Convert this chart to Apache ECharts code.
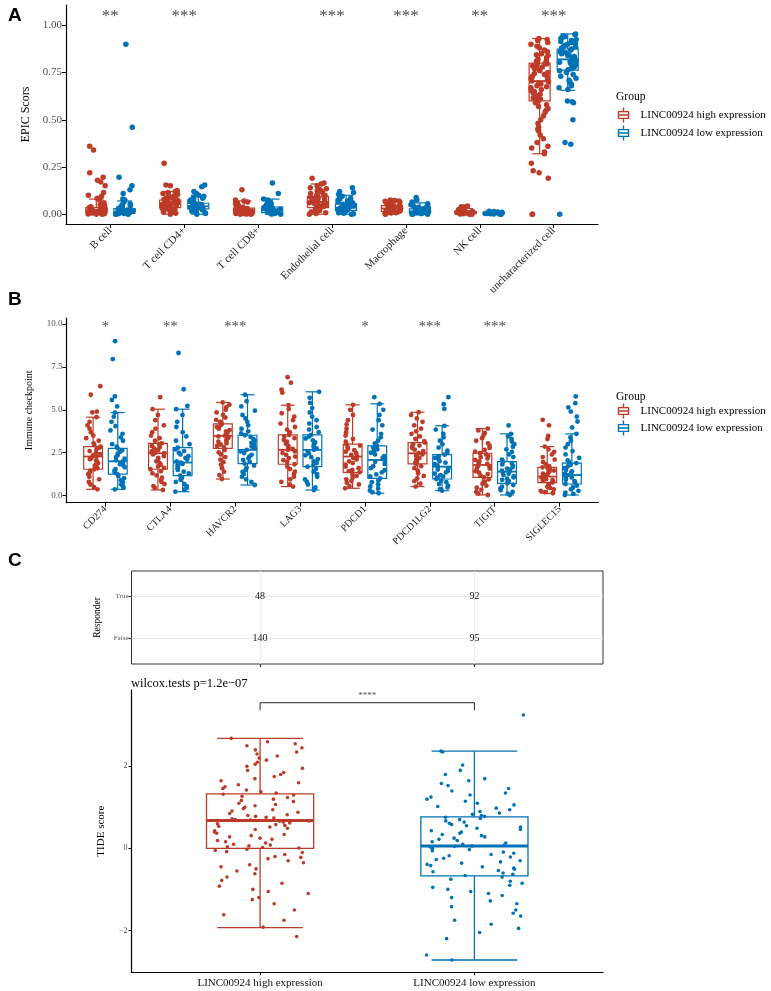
<!DOCTYPE html>
<html><head><meta charset="utf-8">
<script src="https://cdn.jsdelivr.net/npm/echarts@6/dist/echarts.min.js"></script>
<style>html,body{margin:0;padding:0;background:#fff}#c{width:771px;height:991px}</style>
</head><body><div id="c"></div>
<script>
// ---------------- DATA ----------------
const groupNames = ['LINC00924 high expression', 'LINC00924 low expression'];

// Panel A: EPIC scores
const cellTypes = ['B cell', 'T cell CD4+', 'T cell CD8+', 'Endothelial cell', 'Macrophage', 'NK cell', 'uncharacterized cell'];
const cellSig = ['**', '***', '', '***', '***', '**', '***'];
const epicHigh = [
  [0.36,0.34,0.22,0.195,0.18,0.17,0.15,0.115,0.1,0.095,0.085,0.075,0.06,0.055,0.05,0.045,0.04,0.035,0.03,0.03,0.028,0.025,0.022,0.02,0.018,0.016,0.015,0.014,0.012,0.01,0.009,0.008,0.006,0.005,0.004,0.003,0.002,0.001,0.0,0.0],
  [0.27,0.155,0.15,0.125,0.12,0.115,0.11,0.105,0.1,0.095,0.09,0.088,0.085,0.08,0.078,0.075,0.072,0.07,0.068,0.065,0.062,0.06,0.058,0.055,0.053,0.05,0.048,0.046,0.044,0.042,0.04,0.038,0.035,0.032,0.03,0.028,0.025,0.02,0.015,0.01,0.005,0.0],
  [0.13,0.075,0.07,0.065,0.06,0.055,0.05,0.045,0.04,0.037,0.034,0.03,0.028,0.025,0.022,0.02,0.018,0.016,0.015,0.013,0.012,0.01,0.009,0.008,0.006,0.005,0.004,0.003,0.002,0.001,0.0,0.0],
  [0.19,0.165,0.16,0.15,0.14,0.135,0.13,0.125,0.12,0.115,0.11,0.105,0.1,0.098,0.095,0.09,0.088,0.085,0.08,0.077,0.074,0.07,0.067,0.064,0.06,0.057,0.054,0.05,0.047,0.044,0.04,0.037,0.034,0.03,0.027,0.024,0.02,0.016,0.012,0.008,0.004,0.0],
  [0.075,0.072,0.07,0.068,0.065,0.062,0.06,0.057,0.054,0.05,0.048,0.045,0.043,0.04,0.038,0.036,0.034,0.032,0.03,0.028,0.026,0.024,0.022,0.02,0.018,0.016,0.014,0.012,0.01,0.008,0.006,0.004,0.002,0.0],
  [0.044,0.04,0.038,0.03,0.025,0.02,0.018,0.016,0.014,0.012,0.01,0.009,0.008,0.007,0.006,0.005,0.004,0.003,0.002,0.001,0.0,0.0],
  [0.93,0.925,0.92,0.91,0.9,0.89,0.88,0.87,0.86,0.85,0.845,0.84,0.83,0.82,0.815,0.81,0.8,0.795,0.79,0.785,0.78,0.77,0.765,0.76,0.75,0.745,0.74,0.73,0.725,0.72,0.71,0.705,0.7,0.695,0.69,0.68,0.675,0.67,0.66,0.655,0.65,0.64,0.635,0.63,0.62,0.615,0.61,0.6,0.59,0.58,0.57,0.56,0.55,0.54,0.52,0.5,0.48,0.46,0.45,0.44,0.42,0.4,0.38,0.36,0.35,0.33,0.32,0.27,0.23,0.22,0.19,0.0,0.0]
];
const epicLow = [
  [0.9,0.46,0.195,0.15,0.13,0.11,0.08,0.075,0.065,0.055,0.05,0.045,0.04,0.035,0.03,0.025,0.022,0.02,0.018,0.015,0.013,0.012,0.01,0.008,0.007,0.005,0.004,0.003,0.002,0.001,0.0,0.0],
  [0.155,0.145,0.12,0.11,0.1,0.095,0.09,0.085,0.08,0.075,0.07,0.066,0.062,0.058,0.055,0.052,0.05,0.048,0.045,0.043,0.04,0.038,0.036,0.034,0.032,0.03,0.028,0.026,0.024,0.02,0.016,0.012,0.008,0.004,0.0],
  [0.165,0.11,0.08,0.075,0.07,0.065,0.06,0.055,0.05,0.046,0.042,0.038,0.035,0.032,0.03,0.028,0.025,0.022,0.02,0.018,0.016,0.014,0.012,0.01,0.008,0.006,0.004,0.002,0.001,0.0],
  [0.14,0.12,0.115,0.105,0.095,0.09,0.085,0.08,0.075,0.07,0.065,0.06,0.056,0.052,0.048,0.045,0.042,0.039,0.036,0.034,0.032,0.03,0.028,0.026,0.024,0.022,0.02,0.017,0.014,0.011,0.008,0.005,0.002,0.0],
  [0.089,0.075,0.065,0.06,0.055,0.05,0.045,0.04,0.037,0.034,0.031,0.028,0.025,0.023,0.021,0.019,0.017,0.015,0.013,0.011,0.009,0.008,0.006,0.005,0.004,0.003,0.002,0.001,0.0,0.0],
  [0.016,0.014,0.012,0.011,0.01,0.009,0.008,0.007,0.006,0.005,0.004,0.003,0.002,0.001,0.0,0.0],
  [0.955,0.95,0.945,0.94,0.935,0.93,0.925,0.92,0.915,0.91,0.905,0.9,0.895,0.89,0.885,0.88,0.875,0.87,0.865,0.86,0.855,0.85,0.845,0.84,0.835,0.83,0.825,0.82,0.815,0.81,0.805,0.8,0.795,0.79,0.785,0.78,0.775,0.77,0.765,0.76,0.75,0.74,0.73,0.72,0.71,0.7,0.69,0.68,0.67,0.66,0.6,0.595,0.59,0.5,0.38,0.37,0.0]
];
// box stats: [lower whisker, Q1, median, Q3, upper whisker]
const epicBoxHigh = [[0,0.005,0.015,0.035,0.08],[0,0.035,0.055,0.075,0.12],[0,0.005,0.015,0.032,0.07],[0,0.035,0.065,0.095,0.16],[0,0.015,0.03,0.045,0.075],[0,0.003,0.008,0.015,0.03],[0.32,0.60,0.705,0.80,0.93]];
const epicBoxLow  = [[0,0.004,0.012,0.03,0.07],[0,0.028,0.042,0.058,0.1],[0,0.008,0.02,0.038,0.08],[0,0.02,0.034,0.055,0.1],[0,0.005,0.015,0.028,0.06],[0,0.002,0.006,0.01,0.016],[0.656,0.763,0.82,0.875,0.955]];
const epicTicks = [0, 0.25, 0.5, 0.75, 1.0];

// Panel B: immune checkpoints
const checkpointGenes = ['CD274', 'CTLA4', 'HAVCR2', 'LAG3', 'PDCD1', 'PDCD1LG2', 'TIGIT', 'SIGLEC15'];
const icpSig = ['*', '**', '***', '', '*', '***', '***', ''];
const icpHigh = [
  [6.38,5.88,4.9,4.85,4.57,4.3,4.1,3.9,3.7,3.5,3.35,3.2,3.05,2.95,2.86,2.8,2.7,2.6,2.5,2.42,2.35,2.28,2.2,2.12,2.05,1.98,1.9,1.82,1.75,1.68,1.6,1.54,1.45,1.35,1.25,1.1,0.95,0.8,0.65,0.5,0.37],
  [5.74,5.04,4.7,4.4,4.1,3.9,3.7,3.5,3.35,3.2,3.05,2.98,2.9,2.82,2.74,2.66,2.58,2.5,2.47,2.4,2.3,2.2,2.1,2.0,1.9,1.8,1.7,1.62,1.54,1.42,1.3,1.18,1.05,0.92,0.8,0.68,0.56,0.45,0.33],
  [5.43,5.3,5.15,5.0,4.85,4.7,4.55,4.42,4.3,4.18,4.1,4.0,3.9,3.82,3.74,3.66,3.58,3.5,3.45,3.38,3.3,3.22,3.14,3.06,2.98,2.9,2.83,2.76,2.65,2.52,2.4,2.25,2.1,1.95,1.8,1.6,1.4,1.2,0.97],
  [6.9,6.58,6.17,6.0,5.27,5.05,4.8,4.6,4.4,4.2,4.0,3.85,3.7,3.54,3.45,3.35,3.25,3.14,3.03,2.92,2.82,2.72,2.67,2.58,2.48,2.38,2.28,2.18,2.07,1.96,1.83,1.7,1.55,1.4,1.25,1.1,0.95,0.8,0.65,0.53],
  [5.29,5.0,4.7,4.4,4.15,3.9,3.7,3.5,3.3,3.15,3.0,2.92,2.83,2.74,2.65,2.56,2.47,2.38,2.28,2.2,2.1,2.0,1.9,1.8,1.7,1.6,1.5,1.43,1.36,1.25,1.15,1.05,0.95,0.85,0.75,0.65,0.55,0.43],
  [4.86,4.7,4.5,4.3,4.1,3.9,3.75,3.6,3.45,3.3,3.18,3.09,3.0,2.92,2.84,2.76,2.68,2.6,2.52,2.47,2.4,2.33,2.26,2.19,2.12,2.05,1.98,1.92,1.85,1.72,1.6,1.45,1.3,1.15,1.0,0.85,0.7,0.53],
  [3.91,3.8,3.65,3.5,3.35,3.2,3.05,2.9,2.78,2.66,2.56,2.47,2.4,2.32,2.24,2.16,2.08,2.0,1.92,1.85,1.79,1.72,1.65,1.58,1.5,1.42,1.34,1.26,1.18,1.07,0.95,0.82,0.7,0.58,0.46,0.34,0.22,0.12,0.04],
  [4.42,4.1,3.48,3.3,2.86,2.7,2.55,2.4,2.25,2.1,1.95,1.82,1.72,1.65,1.58,1.52,1.46,1.4,1.34,1.28,1.22,1.16,1.11,1.06,1.01,0.96,0.91,0.86,0.81,0.76,0.68,0.6,0.52,0.44,0.36,0.28,0.2,0.14]
];
const icpLow = [
  [9.0,7.96,5.78,5.58,5.2,4.84,4.6,4.3,4.05,3.8,3.6,3.4,3.2,3.0,2.85,2.76,2.65,2.55,2.45,2.35,2.25,2.15,2.07,2.0,1.92,1.83,1.74,1.65,1.55,1.45,1.35,1.26,1.15,1.02,0.9,0.78,0.66,0.55,0.45,0.37],
  [8.31,6.2,5.23,5.04,4.7,4.3,4.0,3.7,3.45,3.2,3.0,2.8,2.7,2.6,2.5,2.4,2.3,2.2,2.1,2.0,1.93,1.85,1.77,1.68,1.6,1.5,1.4,1.3,1.17,1.05,0.92,0.8,0.68,0.56,0.45,0.35,0.23],
  [5.88,5.5,5.2,4.95,4.7,4.5,4.3,4.1,3.9,3.75,3.62,3.52,3.42,3.3,3.2,3.08,2.97,2.86,2.76,2.67,2.58,2.48,2.38,2.28,2.18,2.08,1.97,1.87,1.75,1.62,1.5,1.38,1.25,1.1,0.95,0.8,0.62],
  [6.05,5.7,5.4,5.1,4.85,4.6,4.4,4.2,4.0,3.85,3.7,3.54,3.44,3.33,3.22,3.1,2.98,2.86,2.76,2.67,2.57,2.46,2.35,2.24,2.12,2.0,1.9,1.8,1.69,1.55,1.4,1.25,1.1,0.95,0.8,0.65,0.48,0.33],
  [5.74,5.35,5.0,4.7,4.4,4.1,3.85,3.6,3.4,3.2,3.05,2.9,2.8,2.7,2.6,2.5,2.4,2.3,2.2,2.08,1.97,1.85,1.72,1.6,1.48,1.36,1.24,1.12,1.01,0.9,0.78,0.66,0.54,0.42,0.3,0.2,0.14],
  [5.74,5.33,5.06,4.07,3.85,3.6,3.4,3.2,3.0,2.8,2.62,2.5,2.39,2.3,2.2,2.1,2.0,1.92,1.84,1.76,1.69,1.6,1.52,1.44,1.36,1.28,1.2,1.12,1.05,0.97,0.88,0.78,0.68,0.58,0.48,0.38,0.29],
  [4.09,3.6,3.45,3.3,3.15,3.0,2.85,2.7,2.55,2.4,2.25,2.1,1.98,1.9,1.82,1.74,1.66,1.58,1.5,1.45,1.4,1.34,1.27,1.2,1.13,1.06,0.99,0.92,0.85,0.78,0.72,0.62,0.52,0.42,0.32,0.22,0.12,0.04],
  [5.78,5.39,5.14,4.9,4.61,4.32,3.97,3.6,3.4,3.2,3.0,2.8,2.6,2.4,2.2,2.05,1.95,1.89,1.8,1.7,1.6,1.5,1.42,1.35,1.27,1.2,1.13,1.06,0.99,0.92,0.85,0.78,0.68,0.58,0.48,0.38,0.28,0.18,0.1,0.04]
];
const icpBoxHigh = [[0.37,1.54,2.28,2.86,4.57],[0.33,1.54,2.47,3.05,5.04],[0.97,2.76,3.48,4.18,5.43],[0.53,1.83,2.67,3.54,5.27],[0.43,1.36,2.28,3.0,5.29],[0.53,1.85,2.47,3.09,4.86],[0.04,1.07,1.79,2.47,3.91],[0.14,0.76,1.11,1.65,2.86]];
const icpBoxLow  = [[0.37,1.26,2.0,2.76,4.84],[0.23,1.17,1.93,2.8,5.04],[0.62,1.87,2.67,3.52,5.88],[0.33,1.69,2.67,3.54,6.05],[0.14,1.01,2.08,2.9,5.35],[0.29,0.97,1.69,2.39,4.07],[0.04,0.72,1.4,1.98,3.6],[0.04,0.68,1.2,1.89,3.6]];
const icpTicks = [0, 2.5, 5, 7.5, 10];

// Panel C: responder table + TIDE
const responderLevels = ['False', 'True'];
const responderTrue = [48, 92];
const responderFalse = [140, 95];
const tideHigh = [2.68,2.6,2.55,2.5,2.45,2.4,2.35,2.3,2.25,2.2,2.15,2.1,2.05,2.0,1.95,1.9,1.85,1.8,1.75,1.7,1.65,1.6,1.55,1.5,1.46,1.42,1.38,1.35,
  1.32,1.3,1.27,1.24,1.2,1.17,1.14,1.1,1.07,1.04,1.0,0.97,0.94,0.91,0.88,0.85,0.82,0.8,0.78,0.76,0.74,0.72,0.7,0.69,0.68,0.67,
  0.66,0.64,0.62,0.6,0.58,0.56,0.54,0.52,0.49,0.46,0.43,0.4,0.37,0.34,0.31,0.28,0.25,0.22,0.19,0.16,0.13,0.1,0.08,0.06,0.04,0.02,0.01,
  -0.02,-0.05,-0.08,-0.1,-0.15,-0.2,-0.22,-0.25,-0.3,-0.35,-0.4,-0.45,-0.5,-0.55,-0.62,-0.7,-0.78,-0.85,-0.92,-1.0,-1.05,-1.1,-1.2,-1.25,-1.35,-1.5,-1.62,-1.75,-1.92,-2.15];
const tideLow = [3.25,2.37,2.35,2.03,1.9,1.8,1.7,1.65,1.58,1.53,1.46,1.4,1.35,1.3,1.25,1.2,1.15,1.1,1.06,1.02,0.98,0.94,0.9,0.86,0.83,0.8,0.78,
  0.76,0.73,0.7,0.67,0.64,0.61,0.58,0.55,0.52,0.49,0.46,0.43,0.4,0.37,0.34,0.31,0.28,0.25,0.22,0.19,0.16,0.13,0.1,0.08,0.06,
  0.05,0.03,0.0,-0.03,-0.06,-0.09,-0.12,-0.15,-0.18,-0.21,-0.24,-0.27,-0.3,-0.33,-0.36,-0.39,-0.42,-0.45,-0.48,-0.51,-0.54,-0.57,-0.6,-0.63,-0.66,
  -0.7,-0.75,-0.8,-0.85,-0.9,-0.95,-1.0,-1.05,-1.1,-1.15,-1.2,-1.28,-1.35,-1.42,-1.5,-1.58,-1.65,-1.75,-1.85,-1.95,-2.05,-2.2,-2.6,-2.72];
const tideBox = [[-1.93,0.0,0.68,1.33,2.68],[-2.72,-0.67,0.06,0.77,2.37]];
const tideTicks = [-2, 0, 2];
const tideTest = 'wilcox.tests p=1.2e\u221207';
const tideSig = '****';

// ---------------- STYLE / LAYOUT ----------------
const RED = '#BC3C29', BLUE = '#0072B5';
const COLORS = [RED, BLUE];
const SERIF = '"Liberation Serif", "Times New Roman", serif';
const SANS = '"Liberation Sans", Arial, sans-serif';
const GREY = '#4D4D4D';

const PA = {left: 66, top: 5, right: 598, bottom: 224, ymin: -0.052, ymax: 1.108};
const PB = {left: 66.5, top: 318, right: 598.5, bottom: 502.7, ymin: -0.41, ymax: 10.35};
const PT = {left: 131.5, top: 571, right: 603, bottom: 664};
const PC = {left: 131.5, top: 690, right: 603, bottom: 972.3, ymin: -3.02, ymax: 3.86};
const DODGE = 0.19;

function rect(p) { return {left: p.left, top: p.top, width: p.right - p.left, height: p.bottom - p.top, outerBoundsMode: 'none', containLabel: false}; }
function unit(p, n) { return (p.right - p.left) / (n + 0.2); }
function shifted(p, n, shiftU) {
  const u = unit(p, n);
  return {left: p.left + 0.1 * u + shiftU * u, top: p.top, width: n * u, height: p.bottom - p.top, outerBoundsMode: 'none', containLabel: false};
}

const grids = [], xAxes = [], yAxes = [], series = [];

function hiddenCat(gi, cats, jitter) {
  xAxes.push({gridIndex: gi, type: 'category', data: cats, show: false, jitter: jitter, jitterOverlap: true});
}
function hiddenVal(gi, mn, mx) {
  yAxes.push({gridIndex: gi, type: 'value', min: mn, max: mx, show: false});
}

function boxRender(widthU, capU, color, lw, medLw) {
  return function (params, api) {
    const x = api.value(0);
    const lo = api.coord([x, api.value(1)]), q1 = api.coord([x, api.value(2)]),
          md = api.coord([x, api.value(3)]), q3 = api.coord([x, api.value(4)]), hi = api.coord([x, api.value(5)]);
    const bw = api.size([widthU, 0])[0], cw = api.size([capU, 0])[0];
    const cx = lo[0];
    const st = {stroke: color, lineWidth: lw, fill: 'none'};
    return {type: 'group', children: [
      {type: 'line', shape: {x1: cx, y1: hi[1], x2: cx, y2: q3[1]}, style: st},
      {type: 'line', shape: {x1: cx, y1: q1[1], x2: cx, y2: lo[1]}, style: st},
      {type: 'line', shape: {x1: cx - cw / 2, y1: hi[1], x2: cx + cw / 2, y2: hi[1]}, style: st},
      {type: 'line', shape: {x1: cx - cw / 2, y1: lo[1], x2: cx + cw / 2, y2: lo[1]}, style: st},
      {type: 'rect', shape: {x: cx - bw / 2, y: q3[1], width: bw, height: q1[1] - q3[1]}, style: st},
      {type: 'line', shape: {x1: cx - bw / 2, y1: md[1], x2: cx + bw / 2, y2: md[1]}, style: {stroke: color, lineWidth: medLw}}
    ]};
  };
}

function sigRender(labels, font, dy) {
  return function (params, api) {
    const p = api.coord([api.value(0), api.value(1)]);
    return {type: 'text', x: p[0], y: p[1] + dy, style: {text: labels[params.dataIndex], font: font, fill: GREY, align: 'center', verticalAlign: 'middle'}};
  };
}

// Build a dodged box+jitter panel
function dodgePanel(P, cats, high, low, boxHigh, boxLow, sig, opt) {
  const n = cats.length;
  const g0 = grids.length;
  grids.push(rect(P));
  xAxes.push({gridIndex: g0, type: 'value', min: 0.4, max: n + 0.6,
    axisLine: {show: true, onZero: false, lineStyle: {color: '#000', width: 1.2}},
    axisTick: {show: true, customValues: cats.map((c, i) => i + 1), length: 4, lineStyle: {color: '#000', width: 1}},
    axisLabel: {customValues: cats.map((c, i) => i + 1), formatter: v => cats[Math.round(v) - 1], rotate: 45, margin: 5,
      fontFamily: SERIF, fontSize: opt.xFont, color: '#222'},
    splitLine: {show: false}});
  yAxes.push({gridIndex: g0, type: 'value', min: P.ymin, max: P.ymax,
    name: opt.yName, nameLocation: 'middle', nameGap: opt.nameGap, nameRotate: 90,
    nameTextStyle: {fontFamily: SERIF, fontSize: opt.nameFont, color: '#000'},
    axisLine: {show: true, onZero: false, lineStyle: {color: '#000', width: 1.2}},
    axisTick: {show: true, customValues: opt.ticks, length: 4, lineStyle: {color: '#000', width: 1}},
    axisLabel: {customValues: opt.ticks, formatter: v => Number(v).toFixed(opt.dec), margin: 4,
      fontFamily: SERIF, fontSize: opt.yFont, color: GREY},
    splitLine: {show: false}});
  // boxes
  [boxHigh, boxLow].forEach((bx, g) => {
    const off = g === 0 ? -DODGE : DODGE;
    series.push({type: 'custom', name: groupNames[g], xAxisIndex: g0, yAxisIndex: g0,
      itemStyle: {color: COLORS[g]}, encode: {x: 0, y: [1, 2, 3, 4, 5]},
      data: bx.map((s, k) => [k + 1 + off, s[0], s[1], s[2], s[3], s[4]]),
      renderItem: boxRender(opt.boxW, opt.capW, COLORS[g], 1.2, 1.8), z: 2});
  });
  // jittered points on shifted category grids
  [high, low].forEach((vals, g) => {
    const gi = grids.length;
    grids.push(shifted(P, n, g === 0 ? -DODGE : DODGE));
    hiddenCat(gi, cats, opt.jitter);
    hiddenVal(gi, P.ymin, P.ymax);
    const data = [];
    vals.forEach((arr, k) => arr.forEach(v => data.push([k, v])));
    series.push({type: 'scatter', name: 'pts' + g + gi, xAxisIndex: gi, yAxisIndex: gi, data: data,
      symbolSize: opt.pt, itemStyle: {color: COLORS[g], opacity: 1}, silent: true, z: 3});
  });
  // significance stars
  series.push({type: 'custom', xAxisIndex: g0, yAxisIndex: g0, silent: true, z: 4,
    encode: {x: 0, y: 1},
    data: cats.map((c, k) => [k + 1, opt.starY]),
    renderItem: sigRender(sig, opt.starFont, opt.starDy)});
}

dodgePanel(PA, cellTypes, epicHigh, epicLow, epicBoxHigh, epicBoxLow, cellSig,
  {xFont: 11, yFont: 11, nameFont: 12, nameGap: 32, yName: 'EPIC Scors', ticks: epicTicks, dec: 2,
   boxW: 0.285, capW: 0.2, jitter: 18, pt: 5.5, starY: 1.057, starFont: '17px ' + SERIF, starDy: 2});
dodgePanel(PB, checkpointGenes, icpHigh, icpLow, icpBoxHigh, icpBoxLow, icpSig,
  {xFont: 10, yFont: 9, nameFont: 10, nameGap: 32, yName: 'Immune checkpoint', ticks: icpTicks, dec: 1,
   boxW: 0.29, capW: 0.215, jitter: 15, pt: 4.8, starY: 10.0, starFont: '15px ' + SERIF, starDy: 3});

// ---- Table panel ----
const gT = grids.length;
grids.push(Object.assign(rect(PT), {show: true, borderColor: '#333', borderWidth: 1, backgroundColor: '#fff'}));
xAxes.push({gridIndex: gT, type: 'value', min: 0.4, max: 2.6,
  axisLine: {show: false, onZero: false},
  axisTick: {show: true, customValues: [1, 2], length: 3, lineStyle: {color: '#333', width: 1.2}},
  axisLabel: {show: false},
  splitLine: {show: true, lineStyle: {color: '#EBEBEB', width: 1.2}}});
yAxes.push({gridIndex: gT, type: 'value', min: 0.4, max: 2.6,
  name: 'Responder', nameLocation: 'middle', nameGap: 23, nameRotate: 90,
  nameTextStyle: {fontFamily: SERIF, fontSize: 9.5, color: '#000'},
  axisLine: {show: false, onZero: false},
  axisTick: {show: true, customValues: [1, 2], length: 3, lineStyle: {color: '#333', width: 1.2}},
  axisLabel: {customValues: [1, 2], formatter: v => responderLevels[Math.round(v) - 1], margin: 3,
    fontFamily: SERIF, fontSize: 7, color: GREY},
  splitLine: {show: true, lineStyle: {color: '#EBEBEB', width: 1.2}}});
const tableData = [];
[0, 1].forEach(g => { tableData.push([g + 1, 2, responderTrue[g]]); tableData.push([g + 1, 1, responderFalse[g]]); });
series.push({type: 'custom', xAxisIndex: gT, yAxisIndex: gT, silent: true, encode: {x: 0, y: 1},
  data: tableData,
  renderItem: function (params, api) {
    const p = api.coord([api.value(0), api.value(1)]);
    return {type: 'text', x: p[0], y: p[1], style: {text: String(api.value(2)), font: '10px ' + SERIF, fill: '#111', align: 'center', verticalAlign: 'middle'}};
  }});

// ---- TIDE panel ----
const gC = grids.length;
grids.push(rect(PC));
xAxes.push({gridIndex: gC, type: 'value', min: 0.4, max: 2.6,
  axisLine: {show: true, onZero: false, lineStyle: {color: '#000', width: 1.2}},
  axisTick: {show: true, customValues: [1, 2], length: 3, lineStyle: {color: '#000'}},
  axisLabel: {customValues: [1, 2], formatter: v => groupNames[Math.round(v) - 1], margin: 5,
    fontFamily: SERIF, fontSize: 11, color: '#111'},
  splitLine: {show: false}});
yAxes.push({gridIndex: gC, type: 'value', min: PC.ymin, max: PC.ymax,
  name: 'TIDE score', nameLocation: 'middle', nameGap: 25, nameRotate: 90,
  nameTextStyle: {fontFamily: SERIF, fontSize: 11, color: '#000'},
  axisLine: {show: true, onZero: false, lineStyle: {color: '#000', width: 1.2}},
  axisTick: {show: true, customValues: tideTicks, length: 3, lineStyle: {color: '#000'}},
  axisLabel: {customValues: tideTicks, formatter: v => (v < 0 ? '\u2212' + (-v) : String(v)), margin: 4,
    fontFamily: SERIF, fontSize: 8, color: GREY},
  splitLine: {show: false}});
tideBox.forEach((s, g) => {
  series.push({type: 'custom', name: groupNames[g], xAxisIndex: gC, yAxisIndex: gC, itemStyle: {color: COLORS[g]},
    encode: {x: 0, y: [1, 2, 3, 4, 5]}, data: [[g + 1, s[0], s[1], s[2], s[3], s[4]]],
    renderItem: boxRender(0.5, 0.4, COLORS[g], 1.3, 3), z: 2});
});
const gCp = grids.length;
grids.push(shifted(PC, 2, 0));
hiddenCat(gCp, groupNames, 100);
hiddenVal(gCp, PC.ymin, PC.ymax);
[tideHigh, tideLow].forEach((vals, g) => {
  series.push({type: 'scatter', name: 'tide' + g, xAxisIndex: gCp, yAxisIndex: gCp, silent: true, z: 3,
    data: vals.map(v => [g, v]), symbolSize: 3.6, itemStyle: {color: COLORS[g], opacity: 1}});
});
// significance bracket
const bracketY = 3.55, bracketDrop = 3.37;
series.push({type: 'custom', xAxisIndex: gC, yAxisIndex: gC, silent: true, encode: {x: 0, y: 1},
  data: [[1, bracketY, 2, bracketDrop]],
  renderItem: function (params, api) {
    const a = api.coord([api.value(0), api.value(3)]), b = api.coord([api.value(0), api.value(1)]);
    const c = api.coord([api.value(2), api.value(1)]), d = api.coord([api.value(2), api.value(3)]);
    return {type: 'group', children: [
      {type: 'polyline', shape: {points: [a, b, c, d]}, style: {stroke: '#222', lineWidth: 1, fill: 'none'}},
      {type: 'text', x: (b[0] + c[0]) / 2, y: b[1] - 7, style: {text: tideSig, font: '9px ' + SERIF, fill: GREY, align: 'center', verticalAlign: 'middle'}}
    ]};
  }});

// ---- Legends ----
const BOXICON = 'path://M1,5H13V13H1Z M1,9H13 M7,0V5 M7,13V18';
function legendAt(top, gap) {
  return {left: 616, top: top, orient: 'vertical', itemWidth: 12, itemHeight: 15, itemGap: gap, selectedMode: false,
    padding: 0,
    textStyle: {fontFamily: SERIF, fontSize: 11, lineHeight: 13, color: '#000', padding: [0, 0, 0, 6]},
    data: groupNames.map((nm, g) => ({name: nm, icon: BOXICON, itemStyle: {color: 'none', borderColor: COLORS[g], borderWidth: 1.4}}))};
}

const option = {
  animation: false,
  backgroundColor: '#fff',
  grid: grids, xAxis: xAxes, yAxis: yAxes, series: series,
  legend: [legendAt(105, -2), legendAt(401, -3)],
  title: [
    {text: 'A', left: 3, top: 1, textStyle: {fontFamily: SANS, fontWeight: 'bold', fontSize: 19, color: '#000'}},
    {text: 'B', left: 3, top: 285, textStyle: {fontFamily: SANS, fontWeight: 'bold', fontSize: 19, color: '#000'}},
    {text: 'C', left: 3, top: 546, textStyle: {fontFamily: SANS, fontWeight: 'bold', fontSize: 19, color: '#000'}},
    {text: 'Group', left: 611, top: 86, textStyle: {fontFamily: SERIF, fontWeight: 'normal', fontSize: 11.5, color: '#000'}},
    {text: 'Group', left: 611, top: 386, textStyle: {fontFamily: SERIF, fontWeight: 'normal', fontSize: 11.5, color: '#000'}},
    {text: tideTest, left: 126, top: 672, textStyle: {fontFamily: SERIF, fontWeight: 'normal', fontSize: 12.5, color: '#000'}}
  ]
};
const chart = echarts.init(document.getElementById('c'), null, {renderer: 'canvas'});
chart.setOption(option);
</script>
</body></html>
